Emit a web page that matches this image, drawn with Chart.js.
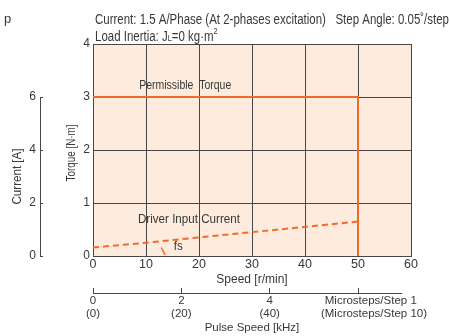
<!DOCTYPE html>
<html>
<head>
<meta charset="utf-8">
<script src="https://cdn.jsdelivr.net/npm/chart.js@4.4.1/dist/chart.umd.min.js"></script>
<style>
  html, body { margin: 0; padding: 0; background: #fff; }
</style>
</head>
<body>
<canvas id="c" width="450" height="336"></canvas>
<script>
// ── datos ──
const torqueSpeed = [0, 50, 50];            // r/min
const torqueVals = [3, 3, 0];               // N·m (Permissible Torque)
const currentSpeed = [0, 10, 20, 30, 40, 50];
const currentVals = [0.32, 0.5, 0.7, 0.9, 1.1, 1.3]; // A (Driver Input Current)
const fsSpeed = [12.9, 13.6];
const fsTorque = [0.16, 0.02];
const currentTicks = [0, 2, 4, 6];
const khzTicks = [0, 2, 4, 6];
const khzTop = ['0', '2', '4', '        Microsteps/Step 1'];
const khzBottom = ['(0)', '(20)', '(40)', '          (Microsteps/Step 10)'];

const FONT = "'Liberation Sans', Arial, Helvetica, sans-serif";
const TXT = '#383838';
const GRID = '#4a4646';
const ORANGE = '#f26a2a';
const BG = '#fdebdd';

Chart.defaults.font.family = FONT;
Chart.defaults.color = TXT;

// texto angosto (la fuente original es condensada): escala horizontal para llegar al ancho medido
function textoAngosto(ctx, txt, x, y, size, ancho, align) {
  ctx.save();
  ctx.font = size + 'px ' + FONT;
  const sx = ancho ? ancho / ctx.measureText(txt).width : 1;
  ctx.translate(x, y);
  ctx.scale(sx, 1);
  ctx.textAlign = align || 'center';
  ctx.fillText(txt, 0, 0);
  ctx.restore();
  return sx;
}

const decor = {
  id: 'decor',
  beforeDraw(chart) {
    const { ctx, chartArea: a } = chart;
    ctx.save();
    ctx.fillStyle = BG;
    ctx.fillRect(a.left, a.top, a.right - a.left, a.bottom - a.top);
    ctx.restore();
  },
  afterDraw(chart) {
    const { ctx, scales, chartArea: a } = chart;
    const { x, y, yCur, x2 } = scales;
    ctx.save();
    ctx.strokeStyle = GRID;
    ctx.lineWidth = 1;
    // eje de corriente (solo 0..6)
    const cx = Math.round(yCur.right - 3) + 0.5;
    ctx.beginPath();
    ctx.moveTo(cx, yCur.getPixelForValue(0));
    ctx.lineTo(cx, yCur.getPixelForValue(6));
    ctx.stroke();
    // eje de kHz (0..7)
    const ky = Math.round(x2.top + 5) + 0.5;
    ctx.beginPath();
    ctx.moveTo(x2.getPixelForValue(0), ky);
    ctx.lineTo(x2.getPixelForValue(7), ky);
    ctx.stroke();

    ctx.fillStyle = TXT;
    ctx.textBaseline = 'middle';
    // títulos de los ejes verticales
    ctx.save();
    ctx.translate(18, (yCur.getPixelForValue(0) + yCur.getPixelForValue(6)) / 2);
    ctx.rotate(-Math.PI / 2);
    textoAngosto(ctx, 'Current [A]', 0, 0, 12.5, 56);
    ctx.restore();
    ctx.save();
    ctx.translate(72, (a.top + a.bottom) / 2 + 3);
    ctx.rotate(-Math.PI / 2);
    textoAngosto(ctx, 'Torque [N·m]', 0, 0, 12.5, 57);
    ctx.restore();

    // encabezado
    textoAngosto(ctx, 'p', 4, 19, 13, 0, 'left');
    const sx = textoAngosto(ctx, 'Current: 1.5 A/Phase (At 2-phases excitation)   Step Angle: 0.05˚/step', 95, 20, 14, 354, 'left');
    let px = 95;
    // las partes de la segunda línea comparten la misma escala horizontal
    const parte = (t, size, dy) => {
      ctx.save();
      ctx.font = size + 'px ' + FONT;
      ctx.translate(px, 37 + dy);
      ctx.scale(sx, 1);
      ctx.textAlign = 'left';
      ctx.fillText(t, 0, 0);
      px += ctx.measureText(t).width * sx;
      ctx.restore();
    };
    parte('Load Inertia: J', 14, 0);
    parte('L', 9, 2);
    parte('=0 kg·m', 14, 0);
    parte('2', 9, -5);

    // rótulos dentro del área
    textoAngosto(ctx, 'Permissible  Torque', x.getPixelForValue(17.4), y.getPixelForValue(3.22), 12.5, 92);
    textoAngosto(ctx, 'Driver Input Current', x.getPixelForValue(18.1), y.getPixelForValue(0.68), 12.5, 102);
    textoAngosto(ctx, 'fs', x.getPixelForValue(16.1), y.getPixelForValue(0.17), 12.5, 9);
    ctx.restore();
  }
};

new Chart(document.getElementById('c'), {
  type: 'line',
  data: {
    datasets: [
      {
        label: 'Permissible Torque',
        data: torqueSpeed.map((s, i) => ({ x: s, y: torqueVals[i] })),
        yAxisID: 'y',
        borderColor: ORANGE, borderWidth: 2, pointRadius: 0, tension: 0,
      },
      {
        label: 'Driver Input Current',
        data: currentSpeed.map((s, i) => ({ x: s, y: currentVals[i] })),
        yAxisID: 'yCur',
        borderColor: ORANGE, borderWidth: 2, borderDash: [6, 4], pointRadius: 0, tension: 0,
      },
      {
        label: 'fs',
        data: fsSpeed.map((s, i) => ({ x: s, y: fsTorque[i] })),
        yAxisID: 'y',
        borderColor: ORANGE, borderWidth: 1.5, pointRadius: 0, tension: 0,
      },
    ],
  },
  options: {
    responsive: false,
    animation: false,
    events: [],
    layout: { padding: { top: 44, right: 39, bottom: 0, left: 0 } },
    plugins: { legend: { display: false }, tooltip: { enabled: false } },
    scales: {
      x: {
        type: 'linear', position: 'bottom', weight: 0,
        min: 0, max: 60,
        afterFit: s => { s.height = 32; },
        grid: { color: GRID, drawTicks: false },
        border: { color: GRID, width: 1 },
        ticks: { stepSize: 10, padding: 1, maxRotation: 0, color: TXT, font: { size: 12.5 } },
        title: { display: true, text: 'Speed [r/min]', color: TXT, font: { size: 12 }, padding: { top: 0, bottom: 1 } },
      },
      x2: {
        type: 'linear', position: 'bottom', weight: 1,
        min: 0, max: 7.2,
        afterBuildTicks: s => { s.ticks = khzTicks.map(v => ({ value: v })); },
        afterFit: s => { s.height = 48; },
        grid: { drawOnChartArea: false, drawTicks: true, tickLength: 5, color: GRID },
        border: { display: false },
        ticks: {
          autoSkip: false, maxRotation: 0, padding: 2, color: TXT,
          font: { size: 11.5, lineHeight: 1.1 },
          callback: (v) => { const i = khzTicks.indexOf(v); return i < 0 ? '' : [khzTop[i], khzBottom[i]]; },
        },
        title: { display: true, text: 'Pulse Speed [kHz]', color: TXT, font: { size: 11.5 }, padding: { top: 0, bottom: 1 } },
      },
      y: {
        position: 'left', weight: 0,
        min: 0, max: 4,
        afterFit: s => { s.width = 50; },
        grid: { color: GRID, drawTicks: false },
        border: { color: GRID, width: 1 },
        ticks: { stepSize: 1, padding: 3, color: TXT, font: { size: 12 } },
      },
      yCur: {
        position: 'left', weight: 1,
        min: 0, max: 8,
        afterBuildTicks: s => { s.ticks = currentTicks.map(v => ({ value: v })); },
        afterFit: s => { s.width = 43; },
        grid: { drawOnChartArea: false, drawTicks: true, tickLength: 3, color: GRID },
        border: { display: false },
        ticks: { padding: 4, color: TXT, font: { size: 12 } },
      },
    },
  },
  plugins: [decor],
});
</script>
</body>
</html>
